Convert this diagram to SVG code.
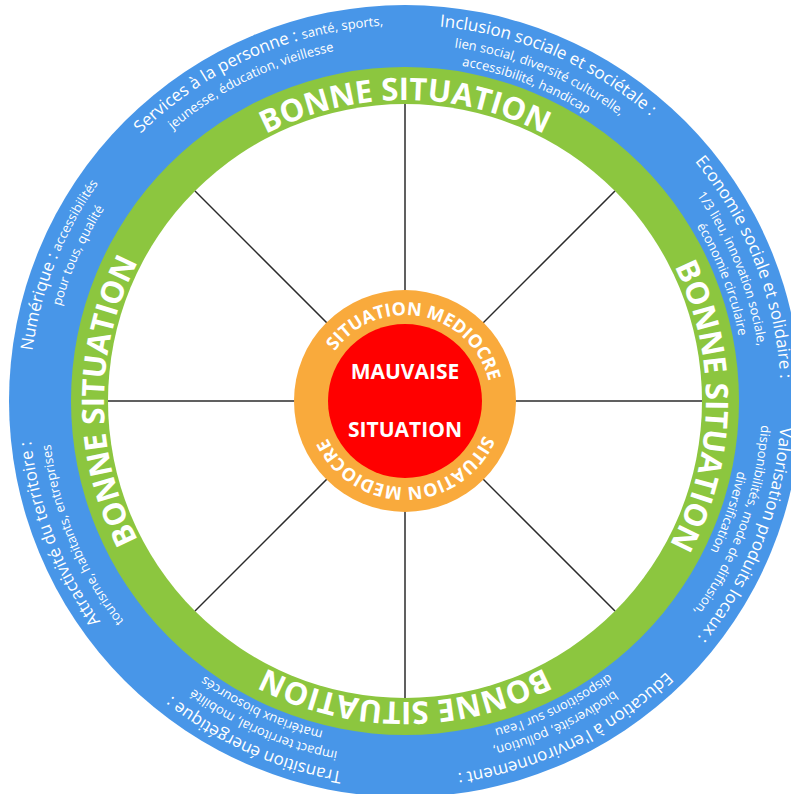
<svg xmlns="http://www.w3.org/2000/svg" xmlns:xlink="http://www.w3.org/1999/xlink" width="791" height="794" viewBox="0 0 791 794">
<style>
  .lbl { font-family: "Open Sans", "Liberation Sans", sans-serif; fill: #ffffff; }
  .big { font-size: 17px; }
  .small { font-size: 13px; }
  .bonne { font-family: "Open Sans", "Liberation Sans", sans-serif; font-weight: bold; font-size: 31px; fill: #ffffff; }
  .medio { font-family: "Open Sans", "Liberation Sans", sans-serif; font-weight: bold; font-size: 18px; fill: #ffffff; }
  .mauv { font-family: "Open Sans", "Liberation Sans", sans-serif; font-weight: bold; font-size: 21px; fill: #ffffff; }
  .spoke { stroke: #2b2b2b; stroke-width: 1.5; }
</style>
<defs>
  <path id="r376" d="M 29 401 A 376 376 0 0 1 781 401"/>
  <path id="r357" d="M 48 401 A 357 357 0 0 1 762 401"/>
  <path id="r340" d="M 65 401 A 340 340 0 0 1 745 401"/>
  <path id="r301" d="M 104 401 A 301 301 0 0 1 706 401"/>
  <path id="r86" d="M 319 401 A 86 86 0 0 1 491 401"/>
</defs>
<rect width="791" height="794" fill="#ffffff"/>
<g id="ring-blue"><circle cx="405" cy="401" r="396" fill="#4896E8"/></g>
<g id="ring-green"><circle cx="405" cy="401" r="334" fill="#8CC63F"/></g>
<g id="zone-white"><circle cx="405" cy="401" r="297" fill="#ffffff"/></g>
<g id="connectors">
  <line class="spoke" x1="405" y1="104" x2="405" y2="698"/>
  <line class="spoke" x1="108" y1="401" x2="702" y2="401"/>
  <line class="spoke" x1="195" y1="191" x2="615" y2="611"/>
  <line class="spoke" x1="615" y1="191" x2="195" y2="611"/>
</g>
<g id="ring-orange"><circle cx="405" cy="401" r="111" fill="#F9AA3C"/></g>
<g id="core-red"><circle cx="405" cy="401" r="77" fill="#FF0000"/></g>

<g id="bonne-situation">
  <text class="bonne" text-anchor="middle"><textPath xlink:href="#r301" startOffset="50%">BONNE SITUATION</textPath></text>
  <text class="bonne" text-anchor="middle" transform="rotate(91 405 401)"><textPath xlink:href="#r301" startOffset="50%">BONNE SITUATION</textPath></text>
  <text class="bonne" text-anchor="middle" transform="rotate(180 405 401)"><textPath xlink:href="#r301" startOffset="50%">BONNE SITUATION</textPath></text>
  <text class="bonne" text-anchor="middle" transform="rotate(270 405 401)"><textPath xlink:href="#r301" startOffset="50%">BONNE SITUATION</textPath></text>
</g>

<g id="situation-mediocre">
  <text class="medio" text-anchor="middle" transform="rotate(11 405 401)"><textPath xlink:href="#r86" startOffset="50%">SITUATION MEDIOCRE</textPath></text>
  <text class="medio" text-anchor="middle" transform="rotate(179 405 401)"><textPath xlink:href="#r86" startOffset="50%">SITUATION MEDIOCRE</textPath></text>
</g>

<g id="mauvaise-situation">
  <text class="mauv" x="405" y="379" text-anchor="middle">MAUVAISE</text>
  <text class="mauv" x="405" y="437" text-anchor="middle">SITUATION</text>
</g>

<g id="services">
  <text class="lbl" text-anchor="middle" transform="rotate(-24 405 401)"><textPath xlink:href="#r376" startOffset="50%"><tspan class="big">Services à la personne : </tspan><tspan class="small">santé, sports,</tspan></textPath></text>
  <text class="lbl small" text-anchor="middle" transform="rotate(-26 405 401)"><textPath xlink:href="#r357" startOffset="50%">jeunesse, éducation, vieillesse</textPath></text>
</g>
<g id="inclusion">
  <text class="lbl big" text-anchor="middle" transform="rotate(23 405 401)"><textPath xlink:href="#r376" startOffset="50%">Inclusion sociale et sociétale :</textPath></text>
  <text class="lbl small" text-anchor="middle" transform="rotate(22.5 405 401)"><textPath xlink:href="#r357" startOffset="50%">lien social, diversité culturelle,</textPath></text>
  <text class="lbl small" text-anchor="middle" transform="rotate(21 405 401)"><textPath xlink:href="#r340" startOffset="50%">accessibilité, handicap</textPath></text>
</g>
<g id="economie">
  <text class="lbl big" text-anchor="middle" transform="rotate(68.5 405 401)"><textPath xlink:href="#r376" startOffset="50%">Economie sociale et solidaire :</textPath></text>
  <text class="lbl small" text-anchor="middle" transform="rotate(68 405 401)"><textPath xlink:href="#r357" startOffset="50%">1/3 lieu, innovation sociale,</textPath></text>
  <text class="lbl small" text-anchor="middle" transform="rotate(69 405 401)"><textPath xlink:href="#r340" startOffset="50%">économie circulaire</textPath></text>
</g>
<g id="valorisation">
  <text class="lbl big" text-anchor="middle" transform="rotate(111.5 405 401)"><textPath xlink:href="#r376" startOffset="50%">Valorisation produits locaux :</textPath></text>
  <text class="lbl small" text-anchor="middle" transform="rotate(110 405 401)"><textPath xlink:href="#r357" startOffset="50%">disponibilités, mode de diffusion,</textPath></text>
  <text class="lbl small" text-anchor="middle" transform="rotate(109 405 401)"><textPath xlink:href="#r340" startOffset="50%">diversification</textPath></text>
</g>
<g id="education">
  <text class="lbl big" text-anchor="middle" transform="rotate(154 405 401)"><textPath xlink:href="#r376" startOffset="50%">Education à l'environnement :</textPath></text>
  <text class="lbl small" text-anchor="middle" transform="rotate(155 405 401)"><textPath xlink:href="#r357" startOffset="50%">biodiversité, pollution,</textPath></text>
  <text class="lbl small" text-anchor="middle" transform="rotate(154 405 401)"><textPath xlink:href="#r340" startOffset="50%">dispositions sur l'eau</textPath></text>
</g>
<g id="transition">
  <text class="lbl big" text-anchor="middle" transform="rotate(204 405 401)"><textPath xlink:href="#r376" startOffset="50%">Transition énergétique :</textPath></text>
  <text class="lbl small" text-anchor="middle" transform="rotate(203.6 405 401)"><textPath xlink:href="#r357" startOffset="50%">impact territorial, mobilité</textPath></text>
  <text class="lbl small" text-anchor="middle" transform="rotate(205 405 401)"><textPath xlink:href="#r340" startOffset="50%">matériaux biosourcés</textPath></text>
</g>
<g id="attractivite">
  <text class="lbl big" text-anchor="middle" transform="rotate(249 405 401)"><textPath xlink:href="#r376" startOffset="50%">Attractivité du territoire :</textPath></text>
  <text class="lbl small" text-anchor="middle" transform="rotate(247.5 405 401)"><textPath xlink:href="#r357" startOffset="50%">tourisme, habitants, entreprises</textPath></text>
</g>
<g id="numerique">
  <text class="lbl" text-anchor="middle" transform="rotate(291.5 405 401)"><textPath xlink:href="#r376" startOffset="50%"><tspan class="big">Numérique : </tspan><tspan class="small">accessibilités</tspan></textPath></text>
  <text class="lbl small" text-anchor="middle" transform="rotate(294 405 401)"><textPath xlink:href="#r357" startOffset="50%">pour tous, qualité</textPath></text>
</g>
</svg>
